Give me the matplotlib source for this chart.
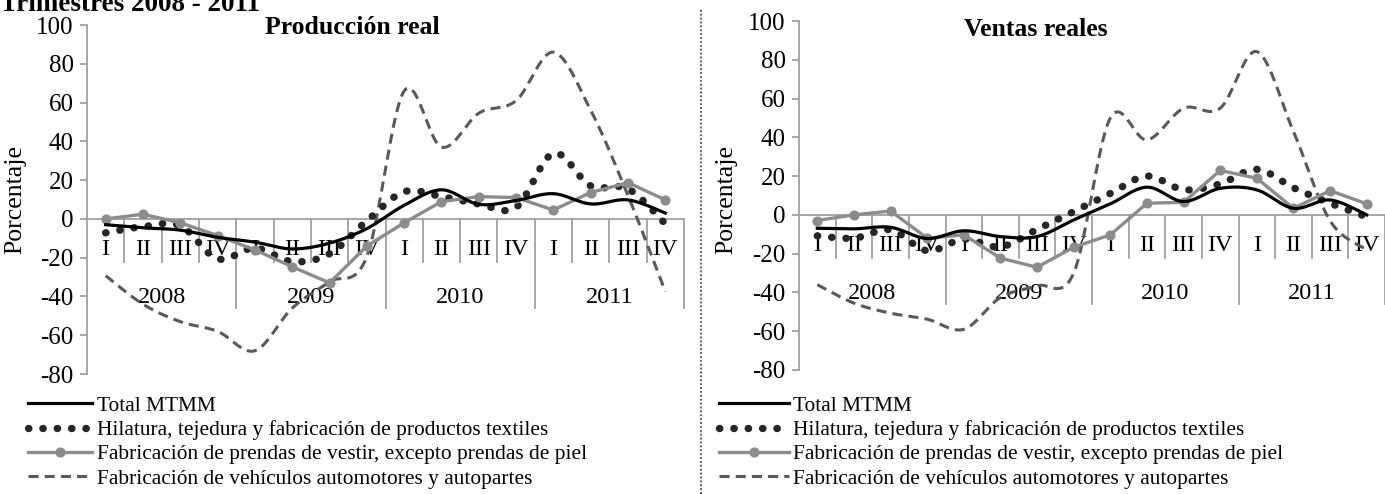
import numpy as np
import matplotlib
matplotlib.use("Agg")
import matplotlib.pyplot as plt
from matplotlib.lines import Line2D

# ---------------- data ----------------
quarters = ["I", "II", "III", "IV"] * 4
years = ["2008", "2009", "2010", "2011"]

prod_total = [-3, -4.6, -5.8, -9.5, -12, -15.5, -12.5, -5, 7, 15, 7.5, 9.5, 13, 7.7, 9.8, 3]
prod_textil = [-7.2, -4, -3.5, -20.6, -15, -22, -18, -1, 14, 11.5, 7.7, 6, 33.8, 17, 15.5, -2.5]
prod_prendas = [0, 2.4, -2, -8.6, -16, -24.7, -33, -14, -2, 8.9, 11.5, 11, 4.6, 13.6, 18.7, 9.8]
prod_vehic = [-29.3, -44, -53, -58, -68, -46, -32.5, -19.4, 66, 37, 54.5, 61, 86, 56, 12, -37.5]

vent_total = [-6.9, -7.2, -6.4, -12.2, -8.2, -11.2, -11.2, -2.6, 5.7, 14.3, 6.9, 13.7, 12.9, 3.4, 7.7, 0]
vent_textil = [-10.8, -12, -7.7, -18.5, -12.5, -16.5, -7.5, 1.7, 11, 20, 13, 16, 23.5, 14, 6, -1]
vent_prendas = [-2.9, 0, 2, -12, -10.3, -22.3, -27, -16.7, -10.3, 6, 6.5, 22.9, 18.9, 3.4, 12.5, 5.7]
vent_vehic = [-36, -45.5, -50.7, -53.8, -59, -42.6, -36.6, -30, 50, 38.7, 55, 55, 84.2, 43, -3, -18]

series_names = [
    "Total MTMM",
    "Hilatura, tejedura y fabricación de productos textiles",
    "Fabricación de prendas de vestir, excepto prendas de piel",
    "Fabricación de vehículos automotores y autopartes",
]
panel_titles = ["Producción real", "Ventas reales"]
main_title = "Trimestres 2008 - 2011"
ylabel = "Porcentaje"
yticks = [-80, -60, -40, -20, 0, 20, 40, 60, 80, 100]

FONT = "Liberation Serif"
plt.rcParams["font.family"] = [FONT, "DejaVu Serif"]

C_BLACK = "#000000"
C_TEXT = "#262626"
C_GRAY = "#8c8c8c"
C_DASH = "#595959"
C_AXIS = "#a0a0a0"


def smooth(y, n=20):
    """Excel-style smoothed line (Bezier through the points)."""
    y = np.asarray(y, float)
    x = np.arange(len(y), dtype=float)
    P = np.column_stack([x, y])
    Pext = np.vstack([P[0], P, P[-1]])
    out = []
    t = np.linspace(0, 1, n, endpoint=False)[:, None]
    for i in range(len(P) - 1):
        p0, p1, p2, p3 = Pext[i], Pext[i + 1], Pext[i + 2], Pext[i + 3]
        c1 = p1 + (p2 - p0) / 6.0
        c2 = p2 - (p3 - p1) / 6.0
        b = ((1 - t) ** 3) * p1 + 3 * ((1 - t) ** 2) * t * c1 + 3 * (1 - t) * t ** 2 * c2 + t ** 3 * p2
        out.append(b)
    out.append(P[-1][None, :])
    out = np.vstack(out)
    return out[:, 0], out[:, 1]


W, H = 1385, 494
fig = plt.figure(figsize=(W / 100, H / 100), dpi=100)

panels = [
    dict(rect=(87, 25, 684, 374), data=(prod_total, prod_textil, prod_prendas, prod_vehic), title=panel_titles[0],
         title_x=352, title_y=28, ylab_x=15, leg_x=28, hlen=3.0),
    dict(rect=(799, 21, 1385, 370), data=(vent_total, vent_textil, vent_prendas, vent_vehic), title=panel_titles[1],
         title_x=1036, title_y=29, ylab_x=726, leg_x=719, hlen=3.25),
]

DOT_STYLE = dict(linestyle=(0, (0.05, 1.9)), dash_capstyle="round", lw=5.3, color=C_TEXT)
DASH_STYLE = dict(linestyle=(0, (3.3, 2.0)), lw=2.2, color=C_DASH)
TOTAL_STYLE = dict(linestyle="-", lw=2.3, color=C_BLACK)
GRAY_STYLE = dict(linestyle="-", lw=2.4, color=C_GRAY, marker="o", markersize=6.3)

for p in panels:
    x0, y0, x1, y1 = p["rect"]
    ax = fig.add_axes([x0 / W, 1 - y1 / H, (x1 - x0) / W, (y1 - y0) / H])
    ax.set_xlim(-0.5, 15.5)
    ax.set_ylim(-80, 100)
    ax.patch.set_alpha(0)
    for s in ["top", "right", "bottom"]:
        ax.spines[s].set_visible(False)
    ax.spines["left"].set_color(C_AXIS)
    ax.spines["left"].set_linewidth(1.3)
    ax.set_xticks([])
    ax.set_yticks(yticks)
    ax.set_yticklabels([str(v) for v in yticks])
    ax.tick_params(axis="y", direction="out", length=5, width=1.3, color=C_AXIS,
                   labelsize=18, pad=4.5, labelcolor="black")

    # category axis at zero
    ax.axhline(0, color=C_AXIS, lw=1.3, zorder=1)
    for k in range(1, 17):
        bottom = -46 if k % 4 == 0 else -22
        ax.plot([k - 0.5, k - 0.5], [0, bottom], color=C_AXIS, lw=1.3, zorder=1, clip_on=False)
    for i, q in enumerate(quarters):
        ax.text(i, -16, q, ha="center", va="center", fontsize=17.5, zorder=2)
    for j, yr in enumerate(years):
        ax.text(4 * j + 1.5, -40.5, yr, ha="center", va="center", fontsize=17.5, zorder=2)

    tot, tex, pre, veh = p["data"]
    xs, ys = smooth(veh)
    ax.plot(xs, ys, zorder=3, **DASH_STYLE)
    xs, ys = smooth(tex)
    ax.plot(xs, ys, zorder=4, **DOT_STYLE)
    ax.plot(np.arange(len(pre)), pre, zorder=5, **GRAY_STYLE)
    xs, ys = smooth(tot)
    ax.plot(xs, ys, zorder=6, **TOTAL_STYLE)

    fig.text(p["title_x"] / W, 1 - p["title_y"] / H, p["title"], ha="center", va="center",
             fontsize=18.5, fontweight="bold")
    fig.text(p["ylab_x"] / W, 1 - 199 / H, ylabel, ha="center", va="center",
             rotation=90, fontsize=18.5)

    handles = [
        Line2D([], [], **TOTAL_STYLE),
        Line2D([], [], **DOT_STYLE),
        Line2D([], [], markevery=[1], **GRAY_STYLE),
        Line2D([], [], **DASH_STYLE),
    ]
    fig.legend(handles, series_names, loc="upper left",
               bbox_to_anchor=(p["leg_x"] / W, 1 - 396 / H), frameon=False,
               fontsize=15.4, handlelength=p["hlen"], handletextpad=0.22,
               labelspacing=0.2, borderpad=0, borderaxespad=0)

# vertical separator
fig.add_artist(Line2D([701 / W, 701 / W], [0, 1 - 8 / H], transform=fig.transFigure,
                      color="#606060", lw=1.4, linestyle=(0, (1, 1))))

fig.text(0, 1 - 11 / H, main_title, ha="left", va="baseline", fontsize=19.5, fontweight="bold")

fig.savefig("out.png", dpi=100)
